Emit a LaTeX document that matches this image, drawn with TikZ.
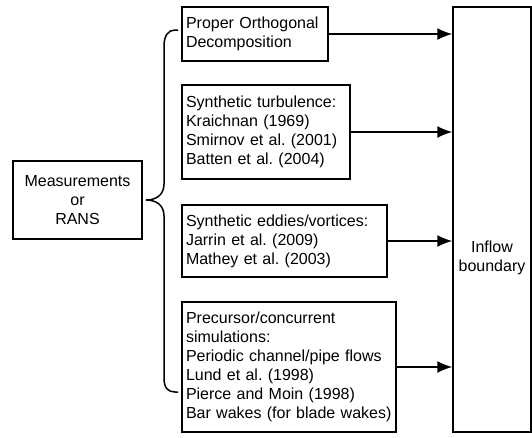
\documentclass[tikz,border=0pt]{standalone}
\usepackage{fontspec}
\setmainfont{Liberation Sans}
\usetikzlibrary{arrows.meta}
\frenchspacing

\begin{document}
\begin{tikzpicture}[x=1pt,y=-1pt,line width=1.5pt,
    srcbox/.style={shape=rectangle,draw,inner xsep=4pt,inner ysep=0pt,align=left},
    feed/.style={-{Latex[length=15pt,width=12pt]}},
    font=\fontsize{16}{19}\selectfont]
    \useasboundingbox (0,0) rectangle (532,437);
    \node[shape=rectangle,draw,minimum width=129pt,minimum height=78pt,align=center,inner sep=0pt] (meas) at (77.5,200) {Measurements\\or\\RANS};
    \node[srcbox,text width=138pt,minimum height=54pt]  (pod)       at (255,34)    {Proper Orthogonal\\Decomposition};
    \node[srcbox,text width=160pt,minimum height=94pt]  (synturb)   at (266,132)   {Synthetic turbulence:\\Kraichnan (1969)\\Smirnov et al. (2001)\\Batten et al. (2004)};
    \node[srcbox,text width=197pt,minimum height=72pt]  (syneddy)   at (284.5,241) {Synthetic eddies/vortices:\\Jarrin et al. (2009)\\Mathey et al. (2003)};
    \node[srcbox,text width=206pt,minimum height=130pt] (precursor) at (289,367)   {Precursor/concurrent\\simulations:\\Periodic channel/pipe flows\\Lund et al. (1998)\\Pierce and Moin (1998)\\\mbox{Bar wakes (for blade wakes)}};
    \node[shape=rectangle,draw,minimum width=78pt,minimum height=425pt,inner sep=0pt] (inflow) at (492,219.5) {};
    \node[align=center,inner sep=0pt] (inflowtext) at (492,258) {Inflow\\boundary};
    % brace
    \coordinate (bracetip) at (146,200);
    \draw (178,30) -- (175,30) .. controls (168,30) and (164,36) .. (164,46) -- (164,184)
        .. controls (164,195) and (156,200) .. (bracetip)
        .. controls (156,200) and (164,205) .. (164,216) -- (164,378)
        .. controls (164,388) and (168,392) .. (175,392) -- (178,392);
    % arrows into the inflow boundary
    \draw[feed] (pod.east) -- (pod.east -| inflow.west);
    \draw[feed] (synturb.east) -- (synturb.east -| inflow.west);
    \draw[feed] (syneddy.east) -- (syneddy.east -| inflow.west);
    \draw[feed] (precursor.east) -- (precursor.east -| inflow.west);
\end{tikzpicture}
\end{document}
